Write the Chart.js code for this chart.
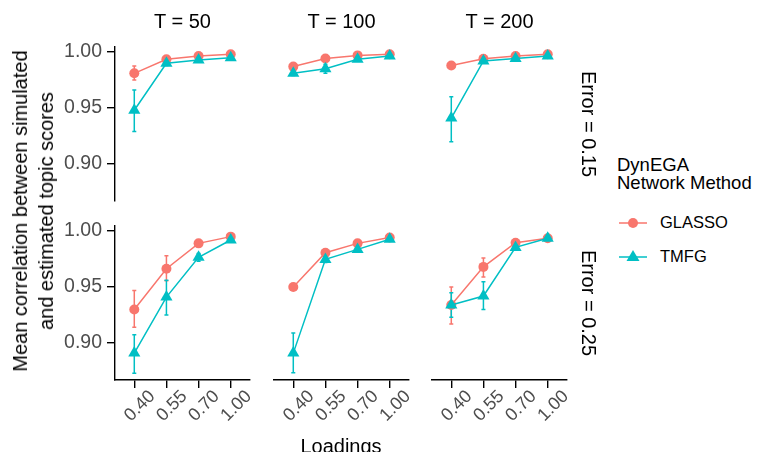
<!DOCTYPE html>
<html>
<head>
<meta charset="utf-8">
<script src="https://cdn.jsdelivr.net/npm/chart.js@4.4.0/dist/chart.umd.min.js"></script>
<style>
  body { margin: 0; background: #fff; font-family: "Liberation Sans", Arial, sans-serif; }
  #wrap { position: relative; width: 766px; height: 452px; overflow: hidden; }
  canvas { position: absolute; }
  .lbl { position: absolute; color: #000; white-space: nowrap; font-size: 20px; }
  .strip { transform: translateX(-50%); text-align: center; }
  .rot { transform: translate(-50%, -50%) rotate(90deg); }
  .ytitle { transform: translate(-50%, -50%) rotate(-90deg); text-align: center; line-height: 26px; }
</style>
</head>
<body>
<div id="wrap"></div>
<script>
// facets
const panelTimes = ['T = 50', 'T = 100', 'T = 200'];
const errorLevels = ['Error = 0.15', 'Error = 0.25'];
const loadings = ['0.40', '0.55', '0.70', '1.00'];
const yTicks = [0.90, 0.95, 1.00];

// panel order: T50/0.15, T100/0.15, T200/0.15, T50/0.25, T100/0.25, T200/0.25
const glassoMean = [
  [0.981, 0.9935, 0.9964, 0.998],
  [0.987, 0.9943, 0.997, 0.998],
  [0.988, 0.994, 0.9964, 0.998],
  [0.930, 0.9664, 0.989, 0.995],
  [0.950, 0.9806, 0.989, 0.9943],
  [0.934, 0.968, 0.9896, 0.9935]
];
const glassoLow = [
  [0.975, 0.991, 0.995, 0.997],
  [0.985, 0.993, 0.996, 0.997],
  [0.987, 0.993, 0.996, 0.997],
  [0.914, 0.9556, 0.987, 0.994],
  [0.948, 0.979, 0.988, 0.994],
  [0.917, 0.959, 0.988, 0.992]
];
const glassoHigh = [
  [0.9875, 0.996, 0.998, 0.999],
  [0.989, 0.996, 0.998, 0.999],
  [0.989, 0.995, 0.997, 0.999],
  [0.947, 0.978, 0.991, 0.996],
  [0.952, 0.982, 0.990, 0.995],
  [0.950, 0.976, 0.991, 0.995]
];
const tmfgMean = [
  [0.948, 0.990, 0.993, 0.995],
  [0.981, 0.985, 0.9935, 0.9964],
  [0.941, 0.992, 0.9943, 0.9964],
  [0.891, 0.941, 0.9765, 0.992],
  [0.891, 0.9747, 0.9836, 0.9926],
  [0.934, 0.942, 0.9854, 0.9935]
];
const tmfgLow = [
  [0.929, 0.988, 0.992, 0.994],
  [0.979, 0.981, 0.992, 0.995],
  [0.920, 0.990, 0.993, 0.995],
  [0.873, 0.925, 0.973, 0.990],
  [0.8735, 0.972, 0.982, 0.992],
  [0.923, 0.930, 0.983, 0.992]
];
const tmfgHigh = [
  [0.966, 0.992, 0.994, 0.996],
  [0.983, 0.989, 0.995, 0.998],
  [0.960, 0.994, 0.996, 0.998],
  [0.9074, 0.956, 0.980, 0.994],
  [0.909, 0.977, 0.985, 0.994],
  [0.945, 0.9547, 0.988, 0.995]
];

const RED = '#F8766D';
const CYAN = '#00BFC4';
const colLeft = [115, 274, 432];
const rowTop = [47, 226];
const PW = 135, PH = 154;
const AX_W = 70, AX_H = 70, PAD = 22;

const wrap = document.getElementById('wrap');

function addLabel(text, x, y, cls, extra) {
  const d = document.createElement('div');
  d.className = 'lbl ' + cls;
  d.innerHTML = text;
  d.style.left = x + 'px';
  d.style.top = y + 'px';
  if (extra) Object.assign(d.style, extra);
  wrap.appendChild(d);
  return d;
}

// error bars drawn through the chart's own scales
const errorBars = {
  id: 'errorBars',
  beforeDatasetsDraw(chart) {
    const ctx = chart.ctx;
    const xs = chart.scales.x, ys = chart.scales.y;
    chart.data.datasets.forEach(ds => {
      ctx.save();
      ctx.strokeStyle = ds.borderColor;
      ctx.lineWidth = 1.5;
      ds.data.forEach((p, i) => {
        const x = xs.getPixelForValue(p.x);
        const y1 = ys.getPixelForValue(ds.low[i]);
        const y2 = ys.getPixelForValue(ds.high[i]);
        ctx.beginPath();
        ctx.moveTo(x, y1); ctx.lineTo(x, y2);
        ctx.moveTo(x - 2, y1); ctx.lineTo(x + 2, y1);
        ctx.moveTo(x - 2, y2); ctx.lineTo(x + 2, y2);
        ctx.stroke();
      });
      ctx.restore();
    });
  }
};

function makePanel(p) {
  const row = Math.floor(p / 3), col = p % 3;
  const cv = document.createElement('canvas');
  const w = PW + AX_W + PAD, h = PH + AX_H + PAD;
  cv.width = w; cv.height = h;
  cv.style.left = (colLeft[col] - AX_W) + 'px';
  cv.style.top = (rowTop[row] - PAD) + 'px';
  cv.style.width = w + 'px'; cv.style.height = h + 'px';
  wrap.appendChild(cv);

  const showY = col === 0;
  const showX = row === 1;
  const pts = arr => arr.map((v, i) => ({ x: i, y: v }));

  new Chart(cv.getContext('2d'), {
    type: 'line',
    data: {
      datasets: [
        {
          label: 'GLASSO', data: pts(glassoMean[p]), low: glassoLow[p], high: glassoHigh[p],
          borderColor: RED, backgroundColor: RED, borderWidth: 1.5,
          pointStyle: 'circle', pointRadius: 5, pointBorderWidth: 0, order: 2, clip: false
        },
        {
          label: 'TMFG', data: pts(tmfgMean[p]), low: tmfgLow[p], high: tmfgHigh[p],
          borderColor: CYAN, backgroundColor: CYAN, borderWidth: 1.5,
          pointStyle: 'triangle', pointRadius: 7, pointBorderWidth: 0, order: 1, clip: false
        }
      ]
    },
    options: {
      responsive: false,
      animation: false,
      devicePixelRatio: 1,
      layout: { padding: { top: PAD, right: PAD, left: 0, bottom: 0 } },
      plugins: { legend: { display: false }, tooltip: { enabled: false } },
      scales: {
        x: {
          type: 'linear', min: -0.6, max: 3.6,
          afterFit: s => { s.height = AX_H; },
          afterBuildTicks: s => { s.ticks = loadings.map((_, i) => ({ value: i })); },
          border: { display: showX, color: '#000', width: 1.4 },
          grid: { display: showX, drawOnChartArea: false, drawTicks: true, tickLength: 8, color: '#000', lineWidth: 1.4 },
          ticks: {
            display: showX, autoSkip: false, minRotation: 45, maxRotation: 45, padding: -2, labelOffset: 18,
            color: '#4d4d4d', font: { family: 'Liberation Sans', size: 18 },
            callback: v => loadings[v]
          }
        },
        y: {
          type: 'linear', min: 0.867, max: 1.0045,
          afterFit: s => { s.width = AX_W; },
          afterBuildTicks: s => { s.ticks = yTicks.map(v => ({ value: v })); },
          border: { display: showY, color: '#000', width: 1.4 },
          grid: { display: showY, drawOnChartArea: false, drawTicks: true, tickLength: 8, color: '#000', lineWidth: 1.4 },
          ticks: {
            display: showY, padding: 5,
            color: '#4d4d4d', font: { family: 'Liberation Sans', size: 19.5 },
            callback: v => v.toFixed(2)
          }
        }
      }
    },
    plugins: [errorBars]
  });
}

for (let p = 0; p < 6; p++) makePanel(p);

// strips
panelTimes.forEach((t, i) => addLabel(t, colLeft[i] + PW / 2, 10, 'strip'));
errorLevels.forEach((e, i) => addLabel(e, 588, rowTop[i] + PH / 2, 'rot'));

// axis titles
addLabel('Mean correlation between simulated<br>and estimated topic scores', 33, 211, 'ytitle');
addLabel('Loadings', 341, 435, 'strip');

// legend
addLabel('DynEGA<br>Network Method', 617, 156, '', { fontSize: '18.5px', lineHeight: '18px' });
[['GLASSO', RED, 'circle', 223], ['TMFG', CYAN, 'triangle', 257]].forEach(([name, c, shape, y]) => {
  const mark = shape === 'circle'
    ? `<circle cx="15" cy="10" r="5" fill="${c}"/>`
    : `<polygon points="15,3 21.5,14 8.5,14" fill="${c}"/>`;
  const svg = `<svg width="30" height="20" style="position:absolute;left:618px;top:${y - 10}px">
    <line x1="1" y1="10" x2="29" y2="10" stroke="${c}" stroke-width="1.5"/>${mark}</svg>`;
  wrap.insertAdjacentHTML('beforeend', svg);
  addLabel(name, 660, y - 10, '', { fontSize: '16.5px' });
});
</script>
</body>
</html>
